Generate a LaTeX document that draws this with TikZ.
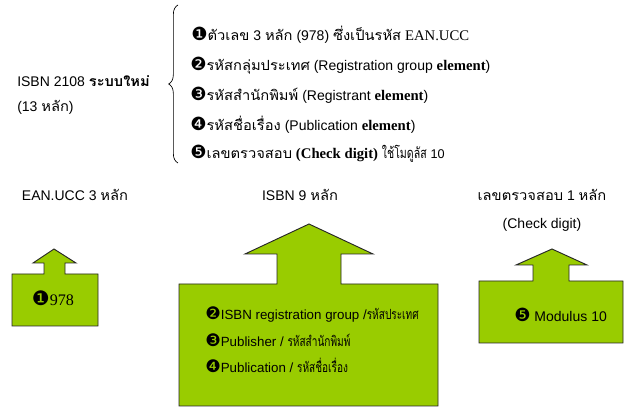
\documentclass[tikz,border=0pt]{standalone}
\usepackage{fontspec}
\setmainfont{Liberation Sans}
\newfontfamily\thai[Script=Thai,FakeStretch=1.05]{Loma}
\newfontfamily\thaic[Script=Thai,FakeStretch=0.72,Scale=1.05]{Loma}
\newfontfamily\thaim[Script=Thai,FakeStretch=1.05]{Loma}
\newfontfamily\dvfont[Scale=1.3]{DejaVu Sans}
\newfontfamily\tms[Scale=1.05]{Liberation Serif}
\newcommand{\bul}[1]{{\dvfont #1}}
\usetikzlibrary{decorations.pathreplacing}
\definecolor{lime}{RGB}{153,204,0}
\begin{document}
\begin{tikzpicture}[x=0.75pt,y=-0.75pt,
  txt/.style={inner sep=0pt,font=\fontsize{10.5}{12}\selectfont},
  item/.style={txt,anchor=west},
  boxitem/.style={item,font=\fontsize{10}{12}\selectfont},
  arrowbox/.style={fill=lime,draw=black!85,line width=0.7pt,line join=miter}]
\useasboundingbox (0,0) rectangle (640,417);
% left label
\node[item] (isbn) at (17,81) {ISBN 2108 {\thaim\bfseries ระบบใหม่}};
\node[item] (thirteen) at (17,107) {(13 {\thaim หลัก})};
% brace
\coordinate (bb) at (178,163);
\coordinate (bt) at (178,5);
\draw[decorate,decoration={brace,amplitude=7pt},line width=0.5pt] (bb) -- (bt);
% list
\node[item] (i1) at (191,35) {\bul{❶}{\thai ตัวเลข} 3 {\thai หลัก} (978) {\thai ซึ่งเป็นรหัส} {\tms EAN.UCC}};
\node[item] (i2) at (190,66) {\bul{❷}{\thai รหัสกลุ่มประเทศ} (Registration group {\tms\bfseries element})};
\node[item] (i3) at (190,95) {\bul{❸}{\thai รหัสสำนักพิมพ์} (Registrant {\tms\bfseries element})};
\node[item] (i4) at (190,125) {\bul{❹}{\thai รหัสชื่อเรื่อง} (Publication {\tms\bfseries element})};
\node[item] (i5) at (190,154) {\bul{❺}{\thai เลขตรวจสอบ} {\tms\bfseries (Check digit)} {\thaic ใช้โมดูลัส} {\fontsize{9.5}{11}\selectfont 10}};
% column labels
\node[txt] (ean) at (75,195) {EAN.UCC 3 {\thai หลัก}};
\node[txt] (isbn9) at (300,195) {ISBN 9 {\thai หลัก}};
\node[txt] (chk) at (542,195) {{\thai เลขตรวจสอบ} 1 {\thai หลัก}};
\node[txt] (chkd) at (542,225) {(Check digit)};
% small arrow box
\draw[arrowbox] (12,274) -- (44,274) -- (44,263) -- (33,263) -- (54,249) -- (76,263) -- (65,263) -- (65,274) -- (98,274) -- (98,326) -- (12,326) -- cycle;
\node[txt,font=\fontsize{11.5}{13}\selectfont] (n978) at (53,298) {\bul{❶}{\tms 978}};
% big arrow box
\draw[arrowbox] (179,284) -- (277,284) -- (277,254) -- (245,254) -- (309,224) -- (373,254) -- (341,254) -- (341,284) -- (438,284) -- (438,406) -- (179,406) -- cycle;
\node[boxitem] (b2) at (205,314) {\bul{❷}ISBN registration group /{\thaic รหัสประเทศ}};
\node[boxitem] (b3) at (205,340) {\bul{❸}Publisher / {\thaic รหัสสำนักพิมพ์}};
\node[boxitem] (b4) at (205,365) {\bul{❹}Publication / {\thaic รหัสชื่อเรื่อง}};
% right arrow box
\draw[arrowbox] (479,281) -- (533,281) -- (533,265) -- (516,265) -- (552,249) -- (587,265) -- (569,265) -- (569,281) -- (623,281) -- (623,343) -- (479,343) -- cycle;
\node[item] (mod) at (514,315) {\bul{❺} Modulus 10};
\end{tikzpicture}
\end{document}
